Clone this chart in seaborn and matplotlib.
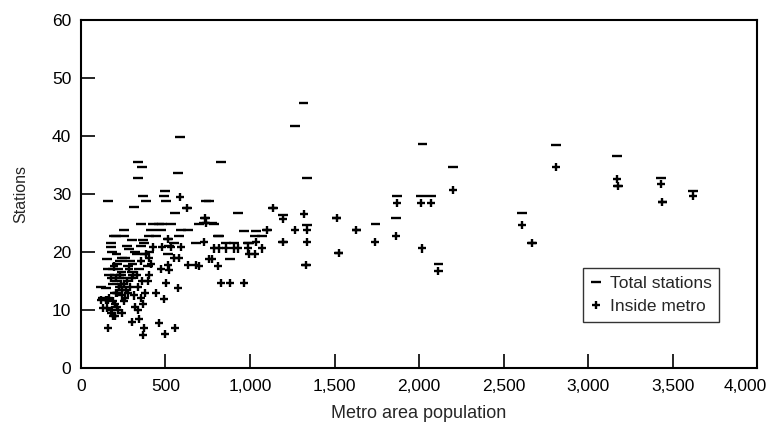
import pandas as pd
import seaborn as sns
import matplotlib.pyplot as plt
from matplotlib.ticker import FuncFormatter
from matplotlib.transforms import ScaledTranslation

# metro areas: population (thousands), total stations, stations inside metro
population = [118, 130, 150, 153, 159, 159, 165, 177, 177, 185, 190, 190, 195, 200, 200,
              207, 210, 215, 215, 220, 225, 230, 235, 240, 240, 245, 254, 254, 260, 265,
              270, 280, 285, 290, 300, 300, 305, 313, 320, 330, 337, 337, 345, 354, 355,
              360, 365, 366, 372, 380, 384, 395, 402, 405, 413, 425, 443, 461, 472, 478,
              490, 496, 502, 514, 514, 520, 531, 549, 555, 573, 579, 590, 585, 626, 632,
              679, 697, 726, 732, 738, 756, 774, 786, 809, 815, 827, 856, 880, 904, 927,
              963, 986, 992, 1028, 1034, 1069, 1099, 1134, 1193, 1193, 1264, 1317, 1329, 1335, 1335,
              1512, 1524, 1630, 1742, 1866, 1872, 2014, 2020, 2073, 2115, 2203, 2611, 2670, 2811,
              3172, 3178, 3432, 3440, 3621]
total_stations = [13.9, 12.0, 13.8, 18.8, 28.7, 17.0, 16.0, 21.5, 20.8, 20.0, 14.5, 17.0, 22.7, 16.0, 13.0,
                  22.7, 19.6, 15.0, 18.0, 17.0, 15.5, 18.5, 16.0, 16.5, 14.0, 19.0, 23.8, 22.7, 19.0, 15.5,
                  21.0, 17.5, 20.5, 18.5, 22.0, 16.5, 18.0, 27.7, 20.0, 19.6, 35.5, 32.7, 17.0, 24.8, 21.0,
                  34.6, 22.0, 29.6, 21.5, 19.6, 28.7, 17.5, 22.7, 20.0, 23.8, 24.8, 22.7, 24.8, 23.8, 24.8,
                  29.6, 30.5, 28.7, 19.6, 22.2, 21.0, 24.8, 21.5, 26.7, 33.6, 22.7, 23.8, 39.8, 27.5, 23.8,
                  21.5, 24.8, 25.0, 25.8, 28.7, 28.7, 25.0, 24.8, 22.7, 22.7, 35.5, 21.5, 18.8, 21.5, 26.7,
                  23.6, 21.5, 21.5, 22.7, 23.6, 22.7, 23.8, 27.5, 26.3, 21.7, 41.7, 45.6, 17.7, 32.7, 24.6,
                  25.8, 19.8, 23.8, 24.8, 25.8, 29.6, 29.6, 38.6, 29.6, 17.9, 34.6, 26.7, 21.5, 38.5,
                  36.5, 31.4, 32.7, 28.6, 30.5]
inside_metro = [11.7, 10.3, 11.8, 10.3, 11.8, 6.9, 12.0, 9.5, 15.5, 10.0, 11.5, 9.0, 17.5, 9.0, 11.0,
                13.0, 15.5, 13.0, 10.5, 10.0, 14.0, 16.0, 14.5, 12.5, 9.5, 13.5, 14.5, 11.5, 12.0, 13.5,
                15.0, 13.0, 17.0, 14.0, 15.5, 8.0, 16.0, 12.5, 10.5, 16.0, 10.0, 14.0, 8.5, 12.0, 18.5,
                15.0, 11.0, 5.7, 6.9, 13.0, 19.6, 15.0, 16.0, 19.0, 18.0, 20.8, 12.9, 7.7, 17.0, 20.8,
                11.9, 5.9, 14.6, 17.7, 22.2, 16.9, 20.8, 18.9, 6.9, 13.8, 18.9, 20.8, 29.4, 27.5, 17.7,
                17.7, 17.6, 21.7, 25.8, 25.0, 18.8, 18.8, 20.6, 17.6, 20.6, 14.6, 20.6, 14.6, 20.6, 20.6,
                14.6, 20.6, 19.6, 19.6, 21.7, 20.6, 23.8, 27.5, 25.6, 21.7, 23.8, 26.5, 17.7, 21.7, 23.8,
                25.8, 19.8, 23.8, 21.7, 22.7, 28.4, 28.4, 20.6, 28.4, 16.7, 30.6, 24.6, 21.5, 34.6,
                32.5, 31.4, 31.7, 28.6, 29.6]

df = pd.DataFrame({
    'Metro area population': population * 2,
    'Stations': total_stations + inside_metro,
    'series': ['Total stations'] * len(population) + ['Inside metro'] * len(population),
})

sns.set_style('ticks')
plt.rcParams['font.family'] = ['Liberation Sans', 'DejaVu Sans']

fig = plt.figure(figsize=(7.71, 4.28), dpi=100)
ax = fig.add_axes([0.105, 0.14, 0.877, 0.814])

sns.scatterplot(data=df, x='Metro area population', y='Stations',
                style='series', markers={'Total stations': '_', 'Inside metro': '+'},
                size='series', sizes={'Total stations': 50, 'Inside metro': 34},
                color='black', linewidth=1.7, ax=ax)

ax.set_xlim(0, 4000)
ax.set_ylim(0, 60)
ax.set_xticks(range(0, 4001, 500))
ax.set_yticks(range(0, 61, 10))
ax.xaxis.set_major_formatter(FuncFormatter(lambda v, p: f'{int(v):,}'))
ax.tick_params(direction='in', length=10, width=1.2, labelsize=12.5, colors='black')
ax.tick_params(axis='x', pad=8)
ax.tick_params(axis='y', pad=7)
for s in ax.spines.values():
    s.set_visible(True)
    s.set_linewidth(1.5)
    s.set_color('black')
ax.set_xlabel('Metro area population', fontsize=13, labelpad=8)
ax.set_ylabel('Stations', fontsize=11.5, labelpad=17)

# last tick label sits a bit inside the figure edge
last = ax.get_xticklabels()[-1]
last.set_transform(last.get_transform() + ScaledTranslation(-0.12, 0, fig.dpi_scale_trans))

handles, labels = ax.get_legend_handles_labels()
leg = ax.legend(handles, labels, loc='lower right', bbox_to_anchor=(0.944, 0.132),
                borderaxespad=0, fancybox=False, frameon=True, edgecolor='black',
                fontsize=12.5, handlelength=0.6, handletextpad=0.5, borderpad=0.45,
                labelspacing=0.45)
leg.get_frame().set_linewidth(1.0)

plt.savefig('out.png', dpi=100)
